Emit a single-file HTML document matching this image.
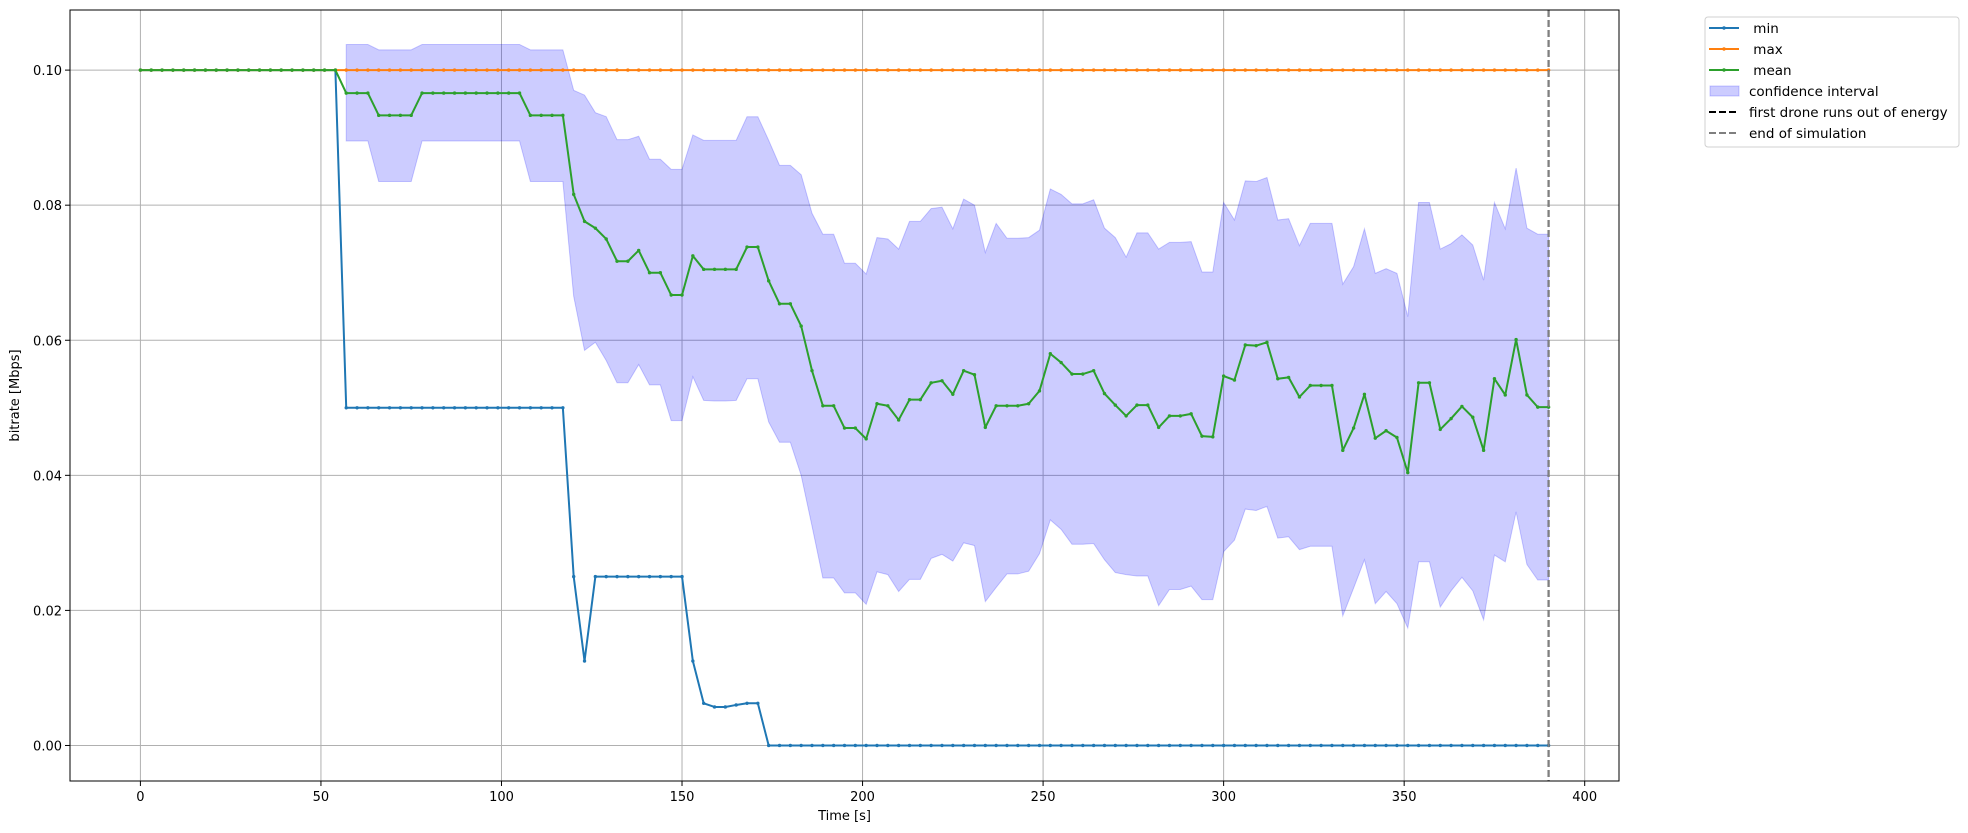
<!DOCTYPE html>
<html><head><meta charset="utf-8"><style>
html,body{margin:0;padding:0;background:#fff;}
svg{display:block;font-family:"DejaVu Sans","Liberation Sans",sans-serif;}
</style></head><body>
<svg id="chart" width="1968" height="833" viewBox="0 0 1968 833" xmlns="http://www.w3.org/2000/svg"></svg>
<script>
const times=[];for(let t=0;t<=390;t+=3)times.push(t);
const minHead=[0.1,0.1,0.1,0.1,0.1,0.1,0.1,0.1,0.1,0.1,0.1,0.1,0.1,0.1,0.1,0.1,0.1,0.1,0.1,
0.05,0.05,0.05,0.05,0.05,0.05,0.05,0.05,0.05,0.05,0.05,0.05,0.05,0.05,0.05,0.05,0.05,0.05,0.05,0.05,0.05,
0.025,0.0125,0.025,0.025,0.025,0.025,0.025,0.025,0.025,0.025,0.025,0.0125,0.00625,0.0057,0.0057,0.006,0.00625,0.00625];
const minVals=minHead.concat(new Array(times.length-minHead.length).fill(0));
const maxVals=times.map(()=>0.1);
const meanVals=[0.1,0.1,0.1,0.1,0.1,0.1,0.1,0.1,0.1,0.1,0.1,0.1,0.1,0.1,0.1,0.1,0.1,0.1,0.1,
0.0966,0.0966,0.0966,0.0933,0.0933,0.0933,0.0933,0.0966,0.0966,0.0966,0.0966,0.0966,0.0966,0.0966,0.0966,0.0966,0.0966,0.0933,0.0933,0.0933,0.0933,
0.0816,0.0776,0.0766,0.0750,0.0717,0.0717,0.0733,0.0700,0.0700,0.0667,0.0667,0.0725,0.0705,0.0705,0.0705,0.0705,0.0738,0.0738,
0.0688,0.0654,0.0654,0.0621,0.0555,0.0503,0.0503,0.0470,0.0470,0.0454,0.0506,0.0503,0.0482,0.0512,0.0512,0.0537,0.0540,0.0520,0.0555,0.0549,
0.0471,0.0503,0.0503,0.0503,0.0506,0.0525,0.0580,0.0567,0.0550,0.0550,0.0555,0.0521,0.0504,0.0488,0.0504,0.0504,0.0471,0.0488,0.0488,0.0491,
0.0458,0.0457,0.0547,0.0541,0.0593,0.0592,0.0597,0.0543,0.0545,0.0516,0.0533,0.0533,0.0533,0.0437,0.0470,0.0520,0.0455,0.0466,0.0456,0.0404,
0.0537,0.0537,0.0468,0.0484,0.0502,0.0486,0.0437,0.0543,0.0519,0.0601,0.0519,0.0501,0.0501];
const ciTimes=times.filter(t=>t>=57);
const ciUpper=[0.1038,0.1038,0.1038,0.1030,0.1030,0.1030,0.1030,0.1038,0.1038,0.1038,0.1038,0.1038,0.1038,0.1038,0.1038,0.1038,0.1038,0.1030,0.1030,0.1030,0.1030,
0.0970,0.0963,0.0937,0.0931,0.0897,0.0897,0.0902,0.0868,0.0868,0.0853,0.0853,0.0904,0.0896,0.0896,0.0896,0.0896,0.0931,0.0931,
0.0896,0.0859,0.0859,0.0845,0.0788,0.0757,0.0757,0.0714,0.0714,0.0698,0.0752,0.0750,0.0735,0.0776,0.0776,0.0795,0.0797,0.0765,0.0809,0.0800,
0.0730,0.0773,0.0751,0.0751,0.0752,0.0763,0.0824,0.0816,0.0802,0.0802,0.0808,0.0766,0.0752,0.0723,0.0759,0.0759,0.0735,0.0745,0.0745,0.0746,
0.0701,0.0701,0.0804,0.0778,0.0836,0.0835,0.0841,0.0778,0.0780,0.0740,0.0773,0.0773,0.0773,0.0683,0.0709,0.0765,0.0699,0.0706,0.0699,0.0635,
0.0804,0.0804,0.0735,0.0743,0.0756,0.0741,0.0689,0.0804,0.0765,0.0855,0.0766,0.0757,0.0757];
const ciLower=[0.0895,0.0895,0.0895,0.0835,0.0835,0.0835,0.0835,0.0895,0.0895,0.0895,0.0895,0.0895,0.0895,0.0895,0.0895,0.0895,0.0895,0.0835,0.0835,0.0835,0.0835,
0.0665,0.0585,0.0597,0.0570,0.0537,0.0537,0.0564,0.0534,0.0534,0.0481,0.0481,0.0546,0.0511,0.0510,0.0510,0.0511,0.0543,0.0543,
0.0479,0.0449,0.0449,0.0400,0.0325,0.0248,0.0248,0.0226,0.0226,0.0209,0.0257,0.0253,0.0228,0.0246,0.0246,0.0277,0.0283,0.0273,0.0300,0.0296,
0.0213,0.0234,0.0254,0.0254,0.0258,0.0284,0.0334,0.0320,0.0298,0.0298,0.0299,0.0275,0.0256,0.0253,0.0251,0.0251,0.0207,0.0231,0.0231,0.0236,
0.0216,0.0216,0.0287,0.0304,0.0350,0.0348,0.0354,0.0307,0.0309,0.0290,0.0295,0.0295,0.0295,0.0192,0.0233,0.0275,0.0210,0.0228,0.0210,0.0174,
0.0272,0.0272,0.0205,0.0229,0.0249,0.0229,0.0186,0.0282,0.0272,0.0346,0.0268,0.0245,0.0245];
const xTicks=[0,50,100,150,200,250,300,350,400];
const yTicks=[0,0.02,0.04,0.06,0.08,0.10];
const yTickLabels=["0.00","0.02","0.04","0.06","0.08","0.10"];
const endTime=390;

const L=70,R=1619,T=10,B=781;
const X0=-19.5,X1=409.5,Y0=-0.00526,Y1=0.1089;
const sx=v=>L+(v-X0)/(X1-X0)*(R-L);
const sy=v=>B-(v-Y0)/(Y1-Y0)*(B-T);
const svg=document.getElementById('chart');
const NS='http://www.w3.org/2000/svg';
function mk(tag,attrs,parent){const e=document.createElementNS(NS,tag);for(const k in attrs)e.setAttribute(k,attrs[k]);(parent||svg).appendChild(e);return e;}

xTicks.forEach(t=>{const g=mk('line',{x1:sx(t),x2:sx(t),y1:T,y2:B,stroke:'#b0b0b0','stroke-width':1});

});
yTicks.forEach(t=>{const g=mk('line',{x1:L,x2:R,y1:sy(t),y2:sy(t),stroke:'#b0b0b0','stroke-width':1});

});

let d='M'+ciTimes.map((t,i)=>sx(t)+','+sy(ciUpper[i])).join('L');
for(let i=ciTimes.length-1;i>=0;i--)d+='L'+sx(ciTimes[i])+','+sy(ciLower[i]);
d+='Z';
const ci=mk('path',{d:d,fill:'rgba(0,0,255,0.2)',stroke:'rgba(0,0,255,0.2)','stroke-width':1});



function series(vals,color,name){
  const g=mk('g',{});
  
  
  mk('polyline',{points:times.map((t,i)=>sx(t)+','+sy(vals[i])).join(' '),fill:'none',stroke:color,'stroke-width':2,'stroke-linejoin':'round'},g);
  times.forEach((t,i)=>{const c=mk('circle',{cx:sx(t),cy:sy(vals[i]),r:1.7,fill:color},g);
  
  });
}
series(minVals,'#1f77b4','min');
series(maxVals,'#ff7f0e','max');
series(meanVals,'#2ca02c','mean');

const v1=mk('line',{x1:sx(endTime),x2:sx(endTime),y1:T,y2:B,stroke:'#000','stroke-width':2,'stroke-dasharray':'7,3'});


const v2=mk('line',{x1:sx(endTime),x2:sx(endTime),y1:T,y2:B,stroke:'#7f7f7f','stroke-width':2,'stroke-dasharray':'7,3'});



const fr=mk('rect',{x:L,y:T,width:R-L,height:B-T,fill:'none',stroke:'#000','stroke-width':1});



xTicks.forEach(t=>{mk('line',{x1:sx(t),x2:sx(t),y1:B,y2:B+5,stroke:'#000'});
const tx=mk('text',{x:sx(t),y:B+20,'text-anchor':'middle','font-size':13,fill:'#000'});tx.textContent=t;

});
yTicks.forEach((t,i)=>{mk('line',{x1:L-5,x2:L,y1:sy(t),y2:sy(t),stroke:'#000'});
const tx=mk('text',{x:L-8,y:sy(t)+5,'text-anchor':'end','font-size':13,fill:'#000'});tx.textContent=yTickLabels[i];

});

const xl=mk('text',{x:(L+R)/2,y:820,'text-anchor':'middle','font-size':13,fill:'#000'});xl.textContent='Time [s]';


const yl=mk('text',{x:0,y:0,'text-anchor':'middle','font-size':13,fill:'#000',transform:'translate(19,'+((T+B)/2)+') rotate(-90)'});yl.textContent='bitrate [Mbps]';



const lg=mk('g',{});


mk('rect',{x:1705,y:17,width:254,height:130,rx:3,fill:'#fff',stroke:'#d0d0d0','stroke-width':1},lg);
const entries=[[' min','line','#1f77b4'],[' max','line','#ff7f0e'],[' mean','line','#2ca02c'],['confidence interval','patch',''],['first drone runs out of energy','dash','#000'],['end of simulation','dash','#7f7f7f']];
entries.forEach((e,i)=>{
  const y=28+i*21;
  const eg=mk('g',{},lg);
  
  
  if(e[1]==='line'){mk('line',{x1:1709,x2:1739,y1:y,y2:y,stroke:e[2],'stroke-width':2},eg);mk('circle',{cx:1724,cy:y,r:1.7,fill:e[2]},eg);}
  else if(e[1]==='patch'){mk('rect',{x:1710,y:y-5,width:29,height:10,fill:'rgba(0,0,255,0.2)',stroke:'rgba(0,0,255,0.2)'},eg);}
  else {mk('line',{x1:1709,x2:1739,y1:y,y2:y,stroke:e[2],'stroke-width':2,'stroke-dasharray':'7,3'},eg);}
  const tx=mk('text',{x:1749,y:y+5,'font-size':13.5,fill:'#000'},eg);
  tx.setAttribute('style','white-space:pre');
  tx.textContent=e[0];
});
</script>
</body></html>
